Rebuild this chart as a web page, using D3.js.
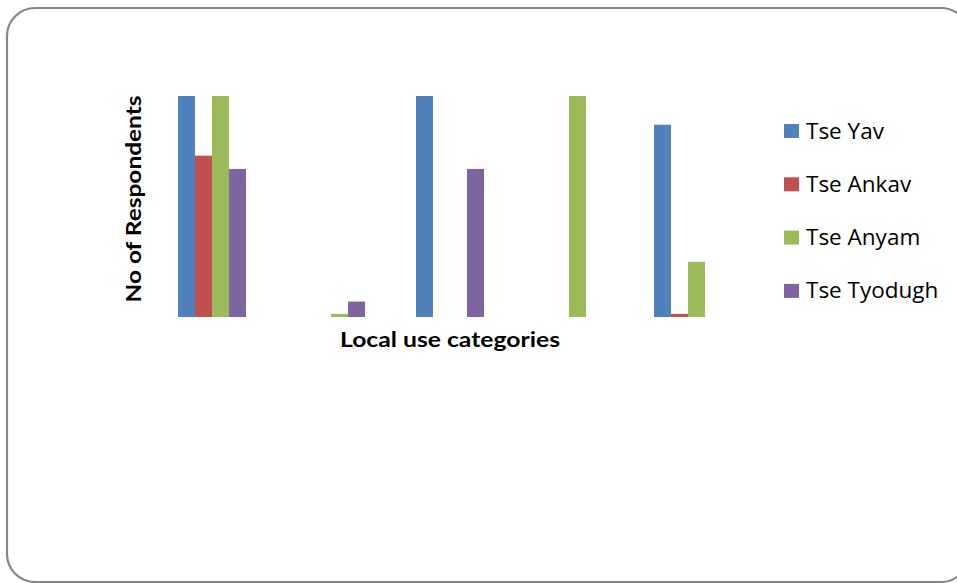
<!DOCTYPE html>
<html>
<head>
<meta charset="utf-8">
<script src="https://cdn.jsdelivr.net/npm/d3@7"></script>
<style>
  body { margin: 0; background: #fff; }
  text { font-family: Lato, "Open Sans", sans-serif; }
</style>
</head>
<body>
<div id="canvas"></div>
<script>
"use strict"

// chart data (relative scale, no tick labels shown)
let categories = ["c1", "c2", "c3", "c4", "c5"];
let seriesNames = ["Tse Yav", "Tse Ankav", "Tse Anyam", "Tse Tyodugh"];
let seriesColors = ["#4f81bd", "#c0504d", "#9bbb59", "#8064a2"];
let tseYav      = [100, 0, 100, 0, 87];
let tseAnkav    = [73, 0, 0, 0, 1.4];
let tseAnyam    = [100, 1.4, 0, 100, 25];
let tseTyodugh  = [67, 7, 67, 0, 0];
let seriesValues = [tseYav, tseAnkav, tseAnyam, tseTyodugh];

let drawing = d3.select("#canvas")
    .append("svg")
    .attr("width", 957)
    .attr("height", 583);

// rounded frame round the whole chart area
let frame = drawing.append("rect")
    .attr("x", 7)
    .attr("y", 8)
    .attr("width", 962)
    .attr("height", 574)
    .attr("rx", 28)
    .attr("fill", "white")
    .attr("stroke", "#868686")
    .attr("stroke-width", 2.2);

let plotLeft = 152.5, plotRight = 747.5, plotTop = 96, plotBottom = 317;

let x = d3.scaleBand()
    .domain(categories)
    .range([plotLeft, plotRight])
    .paddingInner(51 / 119)
    .paddingOuter(51 / 119 / 2);

let xInner = d3.scaleBand()
    .domain(d3.range(seriesNames.length))
    .range([0, x.bandwidth()]);

let y = d3.scaleLinear()
    .domain([0, 100])
    .range([plotBottom, plotTop]);

let bars = [];
seriesValues.forEach(function (vals, s) {
    vals.forEach(function (v, i) {
        bars.push({ cat: categories[i], s: s, v: v });
    });
});

drawing.append("g")
    .selectAll("rect")
    .data(bars.filter(d => d.v > 0))
    .join("rect")
    .attr("x", d => x(d.cat) + xInner(d.s))
    .attr("y", d => y(d.v))
    .attr("width", xInner.bandwidth())
    .attr("height", d => y(0) - y(d.v))
    .attr("fill", d => seriesColors[d.s]);

// axis titles
drawing.append("text")
    .attr("x", 450)
    .attr("y", 347)
    .attr("text-anchor", "middle")
    .attr("font-size", 21)
    .attr("font-weight", "bold")
    .attr("fill", "#000")
    .attr("textLength", 220)
    .attr("lengthAdjust", "spacingAndGlyphs")
    .text("Local use categories");

drawing.append("text")
    .attr("transform", "translate(141,199) rotate(-90)")
    .attr("text-anchor", "middle")
    .attr("font-size", 21)
    .attr("font-weight", "bold")
    .attr("fill", "#000")
    .attr("textLength", 207)
    .attr("lengthAdjust", "spacingAndGlyphs")
    .text("No of Respondents");

// legend
let legend = drawing.append("g")
    .selectAll("g")
    .data(seriesNames)
    .join("g")
    .attr("transform", (d, i) => "translate(784," + (124 + i * 53.3) + ")");

legend.append("rect")
    .attr("width", 15)
    .attr("height", 14)
    .attr("fill", (d, i) => seriesColors[i]);

legend.append("text")
    .attr("x", 22)
    .attr("y", 14.5)
    .attr("font-size", 22.5)
    .attr("fill", "#000")
    .style("font-family", "'Open Sans', sans-serif")
    .text(d => d);
</script>
</body>
</html>
